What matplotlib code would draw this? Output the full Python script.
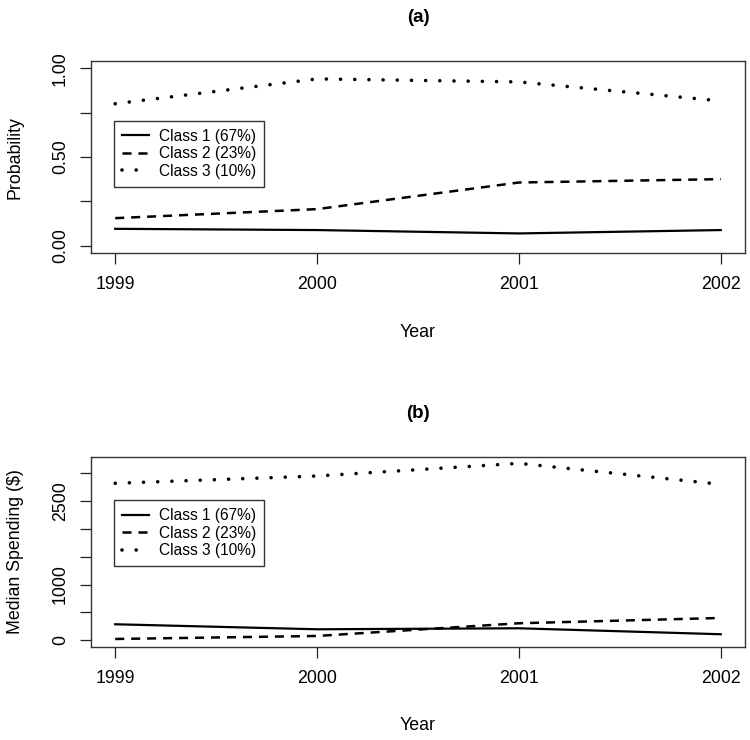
import numpy as np
import matplotlib
matplotlib.use("Agg")
import matplotlib.pyplot as plt

# years on the x axis
years = [1999, 2000, 2001, 2002]
class_labels = ["Class 1 (67%)", "Class 2 (23%)", "Class 3 (10%)"]

# (a) probability by class
prob_class1 = [0.095, 0.088, 0.069, 0.088]
prob_class2 = [0.155, 0.206, 0.356, 0.375]
prob_class3 = [0.800, 0.940, 0.923, 0.816]

# (b) median spending by class
spend_class1 = [287, 197, 215, 108]
spend_class2 = [23, 77, 305, 400]
spend_class3 = [2817, 2948, 3175, 2799]

plt.rcParams['font.family'] = ['Liberation Sans', 'DejaVu Sans']
plt.rcParams['lines.scale_dashes'] = False

styles = [
    dict(linestyle='-', linewidth=1.6),
    dict(linestyle=(0, (6.5, 5)), linewidth=1.8),
    dict(linestyle=(0, (0.01, 10.2)), linewidth=2.6, dash_capstyle='round'),
]


def draw_panel(ax, series, title, ylabel, ylim, yticks, ytick_labels, legend_top):
    for values, label, st in zip(series, class_labels, styles):
        ax.plot(years, values, color='black', label=label, **st)
    ax.set_xlim(1998.88, 2002.12)
    ax.set_ylim(*ylim)
    ax.set_xticks(years)
    ax.set_xticklabels([str(y) for y in years])
    ax.set_yticks(yticks)
    ax.set_yticklabels(ytick_labels, rotation=90, va='center')
    ax.tick_params(axis='both', direction='out', length=8, width=0.9,
                   labelsize=12.8, color='#222222')
    ax.tick_params(axis='x', pad=8)
    ax.tick_params(axis='y', pad=8)
    for sp in ax.spines.values():
        sp.set_linewidth(1.0)
        sp.set_color('#333333')
    ax.set_xlabel("Year", fontsize=12.8, va='center')
    ax.xaxis.set_label_coords(0.5, -0.41)
    ax.set_ylabel(ylabel, fontsize=12.8, va='center')
    ax.yaxis.set_label_coords(-0.116, 0.5)
    ax.text(0.5, 1 + 43 / 192, title, transform=ax.transAxes, ha='center',
            va='center', fontsize=13.5, fontweight='bold')
    leg = ax.legend(loc='upper left', bbox_to_anchor=(0.035, legend_top),
                    borderaxespad=0, fontsize=11.2, frameon=True, fancybox=False,
                    handlelength=1.75, handletextpad=0.65, borderpad=0.5,
                    labelspacing=0.16)
    leg.get_frame().set_edgecolor('black')
    leg.get_frame().set_linewidth(1.0)


fig = plt.figure(figsize=(7.5, 7.4), dpi=100)
ax_a = fig.add_axes([0.1213, 0.6577, 0.872, 0.2599])
ax_b = fig.add_axes([0.1213, 0.1253, 0.872, 0.2576])

draw_panel(ax_a, [prob_class1, prob_class2, prob_class3], "(a)", "Probability",
           (-0.043, 1.041), [0, 0.25, 0.5, 0.75, 1.0],
           ["0.00", "", "0.50", "", "1.00"], 0.6875)
draw_panel(ax_b, [spend_class1, spend_class2, spend_class3], "(b)",
           "Median Spending ($)", (-126, 3295),
           [0, 500, 1000, 1500, 2000, 2500, 3000],
           ["0", "", "1000", "", "", "2500", ""], 0.770)

fig.savefig("out.png", dpi=100, facecolor='white')
